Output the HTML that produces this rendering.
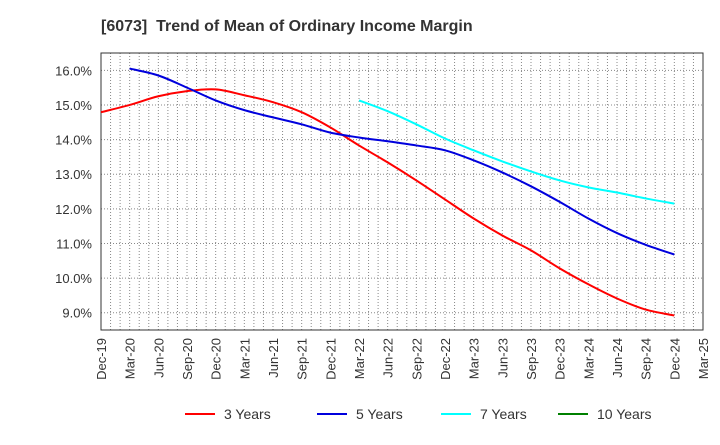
<!DOCTYPE html>
<html><head><meta charset="utf-8"><style>
body{margin:0;background:#fff;font-family:"Liberation Sans",Arial,sans-serif}
</style></head><body>
<svg id="chart" width="720" height="440" xmlns="http://www.w3.org/2000/svg" font-family="Liberation Sans, Arial, sans-serif">
<text x="101" y="31" font-size="16" font-weight="bold" fill="#333">[6073]&#160; Trend of Mean of Ordinary Income Margin</text>
<g id="grid"></g><g id="axes"></g><g id="series"></g><g id="legend"></g>
</svg>
<script>
const xLabels=["Dec-19","Mar-20","Jun-20","Sep-20","Dec-20","Mar-21","Jun-21","Sep-21","Dec-21","Mar-22","Jun-22","Sep-22","Dec-22","Mar-23","Jun-23","Sep-23","Dec-23","Mar-24","Jun-24","Sep-24","Dec-24","Mar-25"];
const yTicks=[9,10,11,12,13,14,15,16];
const s3=[14.79,15.0,15.25,15.4,15.45,15.28,15.08,14.79,14.35,13.83,13.34,12.82,12.27,11.72,11.23,10.8,10.28,9.82,9.41,9.09,8.92];
const s5=[null,16.05,15.85,15.5,15.13,14.85,14.64,14.44,14.2,14.06,13.95,13.83,13.69,13.4,13.05,12.65,12.2,11.72,11.3,10.96,10.68];
const s7=[null,null,null,null,null,null,null,null,null,15.13,14.82,14.44,14.03,13.69,13.37,13.08,12.82,12.62,12.47,12.3,12.15];
const s10=[];
const L=101,R=703,T=53,B=330,yMin=8.5,yMax=16.5;
const X=i=>L+(R-L)*i/21, Y=v=>B-(B-T)*(v-yMin)/(yMax-yMin);
const NS="http://www.w3.org/2000/svg";
function mk(tag,attrs,parent){const e=document.createElementNS(NS,tag);for(const k in attrs)e.setAttribute(k,attrs[k]);parent.appendChild(e);return e;}
const grid=document.getElementById('grid'),axes=document.getElementById('axes'),ser=document.getElementById('series'),leg=document.getElementById('legend');
for(let m=1;m<63;m++){const x=L+(R-L)*m/63;const l=mk('line',{x1:x,x2:x,y1:T,y2:B,stroke:'#888','stroke-width':1,'stroke-dasharray':'1,2'},grid);

}
yTicks.forEach(v=>{const y=Y(v);const l=mk('line',{x1:L,x2:R,y1:y,y2:y,stroke:'#888','stroke-width':1,'stroke-dasharray':'1,2'},grid);


const t=mk('text',{x:L-9,y:y+5,'text-anchor':'end','font-size':13,fill:'#333'},axes);t.textContent=v.toFixed(1)+'%';

});
const fr=mk('rect',{x:L,y:T,width:R-L,height:B-T,fill:'none',stroke:'#333','stroke-width':1},axes);


xLabels.forEach((s,i)=>{const x=X(i)+5;const t=mk('text',{x:0,y:0,transform:`translate(${x},${B+8}) rotate(-90)`,'text-anchor':'end','font-size':13,fill:'#333'},axes);t.textContent=s;

});
function path(data){const pts=[];data.forEach((v,i)=>{if(v!=null)pts.push([X(i),Y(v)]);});if(!pts.length)return '';
let d=`M${pts[0][0]},${pts[0][1]}`;for(let i=0;i<pts.length-1;i++){const p0=pts[Math.max(0,i-1)],p1=pts[i],p2=pts[i+1],p3=pts[Math.min(pts.length-1,i+2)];
d+=` C${p1[0]+(p2[0]-p0[0])/6},${p1[1]+(p2[1]-p0[1])/6} ${p2[0]-(p3[0]-p1[0])/6},${p2[1]-(p3[1]-p1[1])/6} ${p2[0]},${p2[1]}`;}return d;}
const series=[[s3,'#ff0000','3 Years','series-3-years',185],[s5,'#0000dd','5 Years','series-5-years',317],[s7,'#00ffff','7 Years','series-7-years',441],[s10,'#008000','10 Years','series-10-years',558]];
series.forEach(([d,c,n,id,lx])=>{const p=mk('path',{d:path(d),fill:'none',stroke:c,'stroke-width':2},ser);


const g=mk('g',{},leg);


mk('line',{x1:lx,x2:lx+30,y1:414,y2:414,stroke:c,'stroke-width':2},g);
const t=mk('text',{x:lx+39,y:419,'font-size':14,fill:'#333'},g);t.textContent=n;});
</script>
</body></html>
